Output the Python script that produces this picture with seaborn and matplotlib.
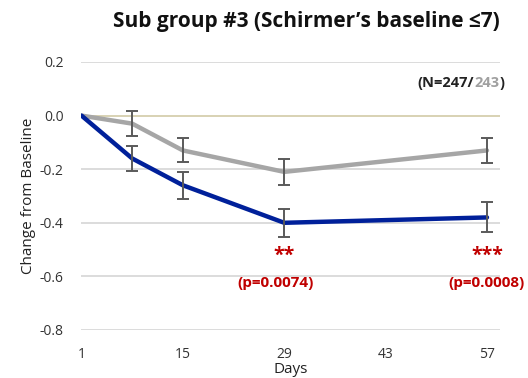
import matplotlib
matplotlib.use("Agg")
import matplotlib.pyplot as plt
import seaborn as sns
import pandas as pd
from matplotlib.offsetbox import TextArea, HPacker, AnnotationBbox

days = [1, 8, 15, 29, 57]
active = [0.0, -0.16, -0.26, -0.40, -0.38]
active_err = [0.0, 0.046, 0.05, 0.052, 0.056]
placebo = [0.0, -0.03, -0.13, -0.21, -0.13]
placebo_err = [0.0, 0.048, 0.045, 0.048, 0.048]
xticks = [1, 15, 29, 43, 57]
yticks = [-0.8, -0.6, -0.4, -0.2, 0.0, 0.2]
sig_days = [29, 57]
sig_stars = ["**", "***"]
sig_p = ["(p=0.0074)", "(p=0.0008)"]

sns.set_theme(style="white")
plt.rcParams['font.family'] = ['Open Sans', 'DejaVu Sans']

BLUE = "#00209a"
GRAY = "#a6a6a6"
ERR = "#5a5a5a"
RED = "#c00000"

fig = plt.figure(figsize=(5.28, 3.78), dpi=100)
ax = fig.add_axes([0.153, 0.127, 0.794, 0.709])

df = pd.DataFrame({
    "Days": days * 2,
    "value": placebo + active,
    "group": ["placebo"] * len(days) + ["active"] * len(days),
})

for y in yticks:
    if y != 0.0:
        ax.axhline(y, color="#d9d9d9", lw=1.3, zorder=0)
ax.axhline(0.0, color="#d6cfae", lw=1.3, zorder=0)

sns.lineplot(data=df, x="Days", y="value", hue="group",
             palette={"placebo": GRAY, "active": BLUE},
             hue_order=["placebo", "active"], lw=3.2, legend=False, ax=ax,
             zorder=3)
ax.errorbar(days[1:], placebo[1:], yerr=placebo_err[1:], fmt="none",
            ecolor=ERR, elinewidth=1.4, capsize=4, capthick=1.4, zorder=4)
ax.errorbar(days[1:], active[1:], yerr=active_err[1:], fmt="none",
            ecolor=ERR, elinewidth=1.4, capsize=4, capthick=1.4, zorder=4)

ax.set_xlim(0.9, 58.8)
ax.set_ylim(-0.8, 0.2)
ax.set_xticks(xticks)
ax.set_xticklabels([str(t) for t in xticks])
ax.set_yticks(yticks)
ax.set_yticklabels([f"{t:.1f}" for t in yticks])
ax.tick_params(axis="both", colors="#333333", labelsize=10, length=0)
ax.tick_params(axis="x", pad=12)
ax.tick_params(axis="y", pad=12.5)
for s in ax.spines.values():
    s.set_visible(False)
ax.set_xlabel("Days", fontsize=11, color="#222222", labelpad=0)
ax.set_ylabel("Change from Baseline", fontsize=11, color="#222222")
ax.yaxis.set_label_coords(-0.108, 0.5)

for d, st, p in zip(sig_days, sig_stars, sig_p):
    ax.text(d, -0.525, st, color=RED, fontsize=14, fontweight="bold",
            ha="center", va="center")
    ax.text(d - (1.2 if d != 57 else 0.0), -0.625, p, color=RED, fontsize=11,
            fontweight="bold", ha="center", va="center")

parts = [TextArea("(N=247/", textprops=dict(color="#222222", fontsize=10.5, fontweight="bold")),
         TextArea("243", textprops=dict(color="#a0a0a0", fontsize=10.5, fontweight="bold")),
         TextArea(")", textprops=dict(color="#222222", fontsize=10.5, fontweight="bold"))]
box = HPacker(children=parts, pad=0, sep=0)
ab = AnnotationBbox(box, (59.4, 0.12), xycoords="data", frameon=False,
                    box_alignment=(1.0, 0.5), pad=0, annotation_clip=False)
ax.add_artist(ab)

fig.suptitle("Sub group #3 (Schirmer\u2019s baseline \u22647)", fontsize=15,
             fontweight="bold", x=0.58, y=0.97, color="#111111")

fig.savefig("out.png", dpi=100)
